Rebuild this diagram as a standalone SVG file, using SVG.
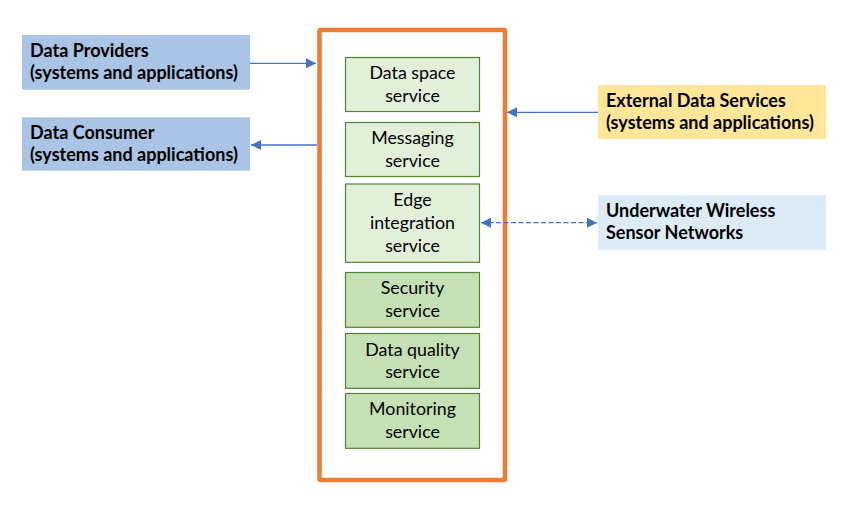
<svg xmlns="http://www.w3.org/2000/svg" width="859" height="511" viewBox="0 0 859 511">
<defs>
<style>
.lbl{font-family:Lato,"Liberation Sans",sans-serif;font-size:18px;font-weight:bold;fill:#000}
.svc{font-family:Lato,"Liberation Sans",sans-serif;font-size:17.8px;fill:#000;text-anchor:middle}
.lg{fill:#E2F0D9;stroke:#548235;stroke-width:1.2}
.dg{fill:#C5E0B4;stroke:#548235;stroke-width:1.2}
.con{stroke:#4472C4;stroke-width:1.3;fill:none}
</style>
<marker id="ah" viewBox="0 0 10 10" refX="10" refY="5" markerWidth="10" markerHeight="10" markerUnits="userSpaceOnUse" orient="auto-start-reverse">
<path d="M0,0 L10,5 L0,10 z" fill="#4472C4"/>
</marker>
</defs>
<rect width="859" height="511" fill="#fff"/>
<g id="platform">
<rect x="319.5" y="30" width="185.5" height="450" fill="#fff" stroke="#ED7D31" stroke-width="4.5" rx="1"/>
</g>
<g id="data-space-service">
<rect class="lg" x="345.5" y="57.5" width="134" height="54"/>
<text class="svc" x="412.5" y="79">Data space</text>
<text class="svc" x="412.5" y="101.7">service</text>
</g>
<g id="messaging-service">
<rect class="lg" x="345.5" y="122.5" width="134" height="54"/>
<text class="svc" x="412.5" y="144">Messaging</text>
<text class="svc" x="412.5" y="166.7">service</text>
</g>
<g id="edge-integration-service">
<rect class="lg" x="345.5" y="184" width="134" height="78.3"/>
<text class="svc" x="412.5" y="206">Edge</text>
<text class="svc" x="412.5" y="228.5">integration</text>
<text class="svc" x="412.5" y="251.5">service</text>
</g>
<g id="security-service">
<rect class="dg" x="345.5" y="272.5" width="134" height="54.8"/>
<text class="svc" x="412.5" y="294.3">Security</text>
<text class="svc" x="412.5" y="316.7">service</text>
</g>
<g id="data-quality-service">
<rect class="dg" x="345.5" y="333.5" width="134" height="54.8"/>
<text class="svc" x="412.5" y="355.7">Data quality</text>
<text class="svc" x="412.5" y="377.7">service</text>
</g>
<g id="monitoring-service">
<rect class="dg" x="345.5" y="393.5" width="134" height="54.8"/>
<text class="svc" x="412.5" y="415">Monitoring</text>
<text class="svc" x="412.5" y="437.7">service</text>
</g>
<g id="data-providers">
<rect x="22" y="35" width="228" height="54.7" fill="#A9C4E4"/>
<text class="lbl" x="30" y="57.3">Data Providers</text>
<text class="lbl" x="30" y="79.3">(systems and applications)</text>
</g>
<g id="data-consumer">
<rect x="22" y="117.3" width="228" height="53.4" fill="#A9C4E4"/>
<text class="lbl" x="30" y="139.3">Data Consumer</text>
<text class="lbl" x="30" y="160.7">(systems and applications)</text>
</g>
<g id="external-data-services">
<rect x="598" y="85" width="228" height="54" fill="#FFE699"/>
<text class="lbl" x="606" y="106.7">External Data Services</text>
<text class="lbl" x="606" y="129.3">(systems and applications)</text>
</g>
<g id="uwsn">
<rect x="598" y="195" width="228" height="55" fill="#DDEBF7"/>
<text class="lbl" x="606" y="216.7">Underwater Wireless</text>
<text class="lbl" x="606" y="239.3">Sensor Networks</text>
</g>
<g id="connectors">
<line class="con" x1="250" y1="63.3" x2="316" y2="63.3" marker-end="url(#ah)"/>
<line class="con" x1="317" y1="145" x2="251" y2="145" marker-end="url(#ah)"/>
<line class="con" x1="598" y1="112.3" x2="507" y2="112.3" marker-end="url(#ah)"/>
<line class="con" x1="481" y1="222.7" x2="597" y2="222.7" stroke-dasharray="5,2.5" stroke-width="2" marker-start="url(#ah)" marker-end="url(#ah)"/>
</g>
</svg>
